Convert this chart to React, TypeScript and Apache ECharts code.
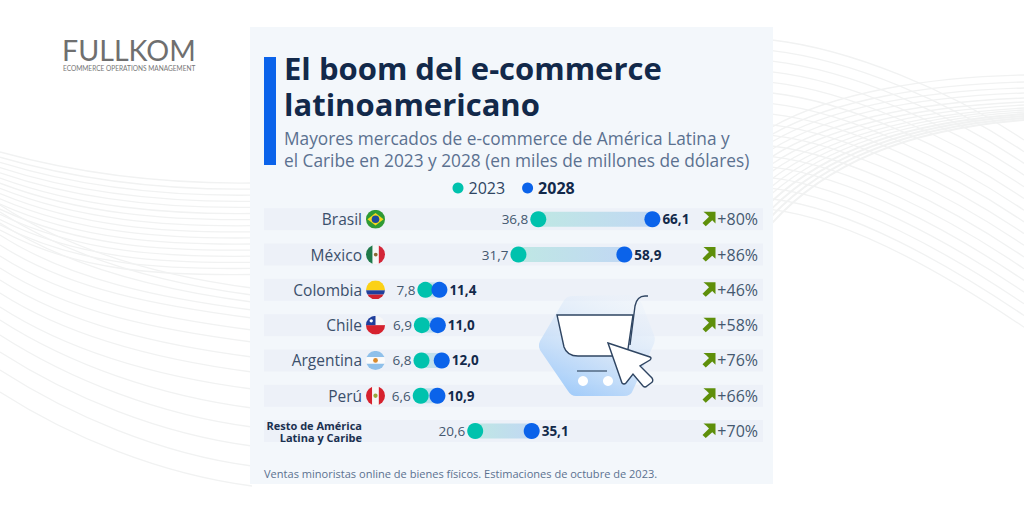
import React, { useEffect, useRef } from "react";
import * as echarts from "echarts";

const categories = ["Brasil", "México", "Colombia", "Chile", "Argentina", "Perú", "Resto de América\nLatina y Caribe"];
const values2023 = [36.8, 31.7, 7.8, 6.9, 6.8, 6.6, 20.6];
const values2028 = [66.1, 58.9, 11.4, 11.0, 12.0, 10.9, 35.1];
const growth = ["+80%", "+86%", "+46%", "+58%", "+76%", "+66%", "+70%"];

const titleLines = "El boom del e-commerce\nlatinoamericano";
const subtitleLines = "Mayores mercados de e-commerce de América Latina y\nel Caribe en 2023 y 2028 (en miles de millones de dólares)";
const footnote = "Ventas minoristas online de bienes físicos. Estimaciones de octubre de 2023.";

const TEAL = "#00c2ad";
const BLUE = "#0b63ea";
const FONT = "'Open Sans', 'Noto Sans', sans-serif";

const flagSvg = (body: string) =>
  "data:image/svg+xml," +
  encodeURIComponent(
    `<svg xmlns="http://www.w3.org/2000/svg" width="40" height="40" viewBox="0 0 40 40"><defs><clipPath id="c"><circle cx="20" cy="20" r="20"/></clipPath></defs><g clip-path="url(#c)">${body}</g></svg>`
  );
const flags = [
  flagSvg('<rect width="40" height="40" fill="#2f9a35"/><polygon points="20,7 37,20 20,33 3,20" fill="#f4d81c"/><circle cx="20" cy="20" r="8" fill="#1f4a9c"/>'),
  flagSvg('<rect width="14" height="40" fill="#1f7a4a"/><rect x="14" width="13" height="40" fill="#f7f7f7"/><rect x="27" width="13" height="40" fill="#d32638"/><circle cx="20.500" cy="20" r="4" fill="#8a6a32"/>'),
  flagSvg('<rect width="40" height="21" fill="#fbd116"/><rect y="21" width="40" height="9" fill="#1f3f9c"/><rect y="30" width="40" height="10" fill="#d2232e"/>'),
  flagSvg('<rect width="40" height="20" fill="#f7f7f7"/><rect y="20" width="40" height="20" fill="#d6222e"/><rect width="20" height="20" fill="#1f3f9c"/><circle cx="11" cy="11" r="3.500" fill="#fff"/>'),
  flagSvg('<rect width="40" height="13" fill="#8fc0ea"/><rect y="13" width="40" height="14" fill="#fbfbfb"/><rect y="27" width="40" height="13" fill="#8fc0ea"/><circle cx="20" cy="20" r="5" fill="#d98a2b"/>'),
  flagSvg('<rect width="13" height="40" fill="#d6222e"/><rect x="13" width="14" height="40" fill="#f7f7f7"/><rect x="27" width="13" height="40" fill="#d6222e"/><circle cx="20" cy="20" r="4.500" fill="#9aa83c"/>'),
];

const basketPath = "M557 315 L633 315 L628 349 Q627 356 620 356 L578 356 Q567 356 564 347 Z";
const handlePath = "M648 296 L645 296 Q637 296 635 306 L630 345";
const cursorPath = "M608 343 L650 357 Q652 358 650 360 L640 366 L652 378 Q654 381 651 383 L647 386 Q645 388 643 386 L633 374 L626 383 Q624 385 622 383 Z";
const blobPath = "M572 296 L628 295 Q638 295 642 304 L654 335 Q656 340 653 346 L633 390 Q631 396 624 396 L576 396 Q571 396 568 391 L542 353 Q537 347 540 341 L563 302 Q566 296 572 296 Z";
const arrowPath = "M1 0 L14 0 L14 13 L10.5 9.500 L3.500 16 L0 12.500 L7 5.500 L4 2.500 Z";

echarts.graphic.registerShape("basketShape", echarts.graphic.extendPath(basketPath, {}));
echarts.graphic.registerShape("handleShape", echarts.graphic.extendPath(handlePath, {}));
echarts.graphic.registerShape("cursorShape", echarts.graphic.extendPath(cursorPath, {}));
echarts.graphic.registerShape("blobShape", echarts.graphic.extendPath(blobPath, {}));

function curve(p0: number[], c1: number[], c2: number[], p1: number[], lineWidth = 1.3) {
  return {
    type: "bezierCurve",
    silent: true,
    z: 0,
    shape: { x1: p0[0], y1: p0[1], cpx1: c1[0], cpy1: c1[1], cpx2: c2[0], cpy2: c2[1], x2: p1[0], y2: p1[1] },
    style: { stroke: "#f1f2f2", lineWidth, fill: "none" },
  };
}

function backgroundLines() {
  const out: any[] = [];
  // left, upper sheaf
  for (let k = 0; k < 16; k++) {
    const y0 = 152 + k * 5.2;
    const y1 = 183 + k * 6.1;
    out.push(curve([0, y0], [80, y0 + 22 + k * 1.4], [165, y1 + 1], [252, y1]));
  }
  // left, lower sheaf
  const lowerStart = [205, 212, 223, 235, 245, 256, 268, 280, 293, 307, 320, 335, 352, 370, 392];
  const lowerEnd = [288, 295, 302, 310, 318, 330, 342, 357, 372, 389, 408, 427, 446, 466, 486];
  lowerStart.forEach((y0, k) => {
    const y1 = lowerEnd[k];
    out.push(curve([0, y0], [70, y0 + 45], [160, y1 - 12], [252, y1]));
  });
  // right, descending sheaf
  for (let k = 0; k < 17; k++) {
    const y0 = 40 + k * 10.6;
    const y1 = 140 + k * 11.7;
    out.push(curve([772, y0], [850, y0 + 9], [950, y1 - 50], [1024, y1]));
  }
  // right, rising sheaf
  const riseEnd = [75, 82, 88, 93, 98, 102, 105, 108, 110, 112, 114, 116, 118, 120];
  riseEnd.forEach((y1, k) => {
    const y0 = 127 + k * 7.4;
    out.push(curve([772, y0], [835, y0 - (y0 - y1) * 0.68], [930, y1 + 2 + k * 0.4], [1024, y1], k > 9 ? 2 : 1.3));
  });
  return out;
}

export default function App() {
  const ref = useRef<HTMLDivElement>(null);
  useEffect(() => {
    document.body.style.margin = "0";
    const chart = echarts.init(ref.current!, undefined, { renderer: "svg" });
    const rowData = growth.map((g, i) => [0, i, g]);
    chart.setOption({
      animation: false,
      backgroundColor: "#ffffff",
      textStyle: { fontFamily: FONT },
      title: [
        {
          text: titleLines,
          left: 284,
          top: 50,
          padding: 0,
          textStyle: { fontFamily: FONT, fontWeight: "bold", fontSize: 31, lineHeight: 36, color: "#12294a" },
        },
        {
          text: subtitleLines,
          left: 284,
          top: 127,
          padding: 0,
          textStyle: { fontFamily: FONT, fontWeight: "normal", fontSize: 17.3, lineHeight: 22, color: "#5b7190" },
        },
        {
          text: footnote,
          left: 264,
          top: 468,
          padding: 0,
          textStyle: { fontFamily: FONT, fontWeight: "normal", fontSize: 11.05, color: "#5b7190" },
        },
        {
          text: "FULLKOM",
          left: 62,
          top: 35,
          padding: 0,
          textStyle: { fontFamily: "Lato, sans-serif", fontWeight: "normal", fontSize: 28.6, color: "#6f6f6f" },
        },
        {
          text: "ECOMMERCE OPERATIONS MANAGEMENT",
          left: 63,
          top: 65,
          padding: 0,
          textStyle: { fontFamily: "Lato, sans-serif", fontWeight: "normal", fontSize: 6.55, color: "#777777" },
        },
      ],
      legend: {
        left: 452.5,
        top: 180,
        padding: 0,
        itemGap: 17,
        itemWidth: 11,
        itemHeight: 11,
        selectedMode: false,
        data: [
          { name: "2023", icon: "circle", textStyle: { fontFamily: FONT, fontSize: 16, color: "#2f4562", fontWeight: "normal" } },
          { name: "2028", icon: "circle", textStyle: { fontFamily: FONT, fontSize: 16, color: "#12294a", fontWeight: "bold" } },
        ],
      },
      grid: { left: 395, top: 201.6, width: 389.4, height: 247.1, containLabel: false },
      xAxis: { type: "value", min: 0, max: 100, show: false },
      yAxis: {
        type: "category",
        inverse: true,
        z: 10,
        data: categories,
        axisLine: { show: false },
        axisTick: { show: false },
        splitLine: { show: false },
        axisLabel: {
          margin: 33,
          align: "right",
          fontFamily: FONT,
          fontSize: 15.5,
          color: "#3b4f6b",
          formatter: (v: string) =>
            v.includes("\n") ? v.split("\n").map((s) => `{small|${s}}`).join("\n") : v,
          rich: {
            small: { fontFamily: FONT, fontSize: 11, lineHeight: 12, fontWeight: "bold", color: "#1a3050", align: "right" },
          },
        },
      },
      graphic: [
        ...backgroundLines(),
        { type: "rect", silent: true, z: 1, shape: { x: 250, y: 27, width: 523, height: 457 }, style: { fill: "#f3f7fb" } },
        { type: "rect", silent: true, z: 2, shape: { x: 264, y: 57, width: 12, height: 108 }, style: { fill: BLUE } },
        {
          type: "blobShape",
          silent: true,
          z: 7,
          style: {
            fill: new echarts.graphic.LinearGradient(0.15, 1, 0.65, 0, [
              { offset: 0, color: "rgba(150,198,250,0.95)" },
              { offset: 0.55, color: "rgba(205,225,248,0.7)" },
              { offset: 1, color: "rgba(232,240,250,0.35)" },
            ]),
          },
        },
        { type: "basketShape", silent: true, z: 8, style: { fill: "#ffffff", stroke: "#2f4562", lineWidth: 1.4 } },
        { type: "handleShape", silent: true, z: 8, style: { fill: "none", stroke: "#2f4562", lineWidth: 1.4 } },
        { type: "line", silent: true, z: 8, shape: { x1: 577, y1: 371, x2: 607, y2: 371 }, style: { stroke: "#4a607c", lineWidth: 1.4 } },
        { type: "circle", silent: true, z: 8, shape: { cx: 583, cy: 381, r: 5 }, style: { fill: "#ffffff" } },
        { type: "circle", silent: true, z: 8, shape: { cx: 608, cy: 381, r: 5 }, style: { fill: "#ffffff" } },
        { type: "cursorShape", silent: true, z: 9, style: { fill: "#ffffff", stroke: "#2f4562", lineWidth: 1.4 } },
      ],
      series: [
        {
          name: "rows",
          type: "custom",
          z: 3,
          silent: true,
          encode: { x: 0, y: 1 },
          data: rowData,
          renderItem: (_p: any, api: any) => {
            const i = api.value(1);
            const y = api.coord([0, i])[1];
            const children: any[] = [
              { type: "rect", shape: { x: 264, y: y - 11, width: 499, height: 22 }, style: { fill: "#edf1f8" } },
              {
                type: "text",
                style: { x: 758, y, text: growth[i], align: "right", verticalAlign: "middle", fontFamily: FONT, fontSize: 16, fill: "#44586f" },
              },
              {
                type: "path",
                shape: { pathData: arrowPath, x: 702.5, y: y - 7.5, width: 13, height: 14.5, layout: "cover" },
                style: { fill: "#5e8f0a" },
              },
            ];
            if (flags[i]) {
              children.push({ type: "image", style: { image: flags[i], x: 366, y: y - 9.5, width: 19, height: 19 } });
            }
            return { type: "group", children };
          },
        },
        {
          name: "range",
          type: "custom",
          z: 4,
          silent: true,
          encode: { x: [0, 2], y: 1 },
          data: values2023.map((v, i) => [v, i, values2028[i]]),
          renderItem: (_p: any, api: any) => {
            const a = api.coord([api.value(0), api.value(1)]);
            const b = api.coord([api.value(2), api.value(1)]);
            return {
              type: "rect",
              shape: { x: a[0], y: a[1] - 7.5, width: b[0] - a[0], height: 15 },
              style: {
                fill: new echarts.graphic.LinearGradient(0, 0, 1, 0, [
                  { offset: 0, color: "#bfe7e4" },
                  { offset: 1, color: "#c1d8f3" },
                ]),
              },
            };
          },
        },
        {
          name: "2023",
          type: "scatter",
          z: 5,
          symbolSize: 16,
          itemStyle: { color: TEAL, opacity: 1 },
          data: values2023.map((v, i) => [v, i]),
          label: {
            show: true,
            position: "left",
            distance: 2,
            fontFamily: FONT,
            fontSize: 13.5,
            color: "#44586f",
            formatter: (p: any) => p.value[0].toFixed(1).replace(".", ","),
          },
        },
        {
          name: "2028",
          type: "scatter",
          z: 6,
          symbolSize: 16,
          itemStyle: { color: BLUE, opacity: 1 },
          data: values2028.map((v, i) => [v, i]),
          label: {
            show: true,
            position: "right",
            distance: 2,
            fontFamily: FONT,
            fontSize: 13.5,
            fontWeight: "bold",
            color: "#12294a",
            formatter: (p: any) => p.value[0].toFixed(1).replace(".", ","),
          },
        },
      ],
    });
    return () => chart.dispose();
  }, []);
  return <div ref={ref} style={{ position: "absolute", left: 0, top: 0, width: 1024, height: 512 }} />;
}
